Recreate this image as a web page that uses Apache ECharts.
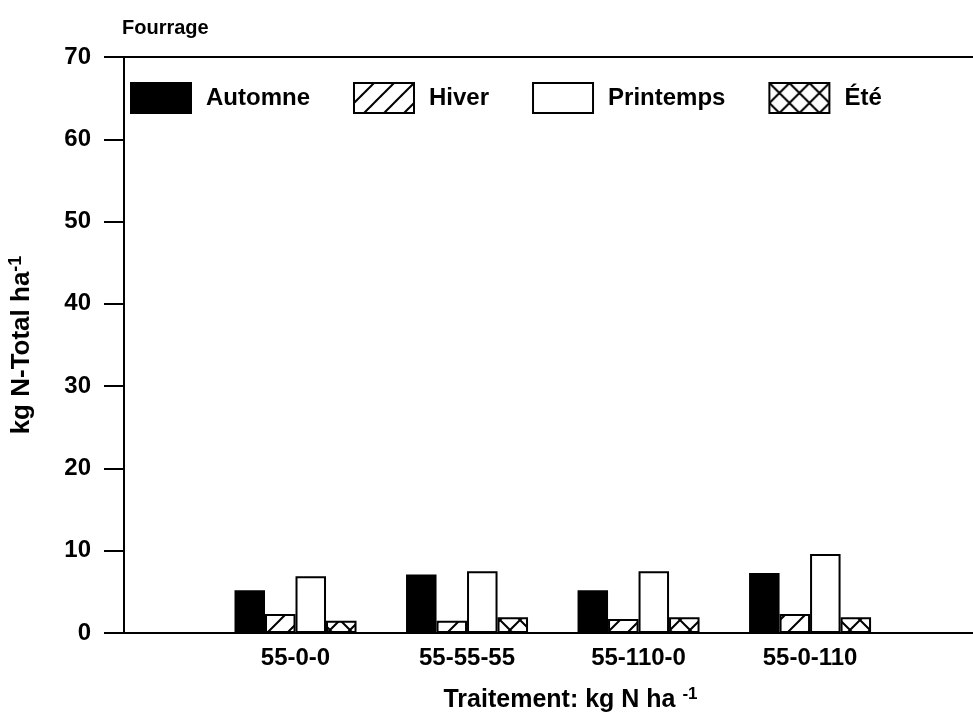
<!DOCTYPE html>
<html>
<head>
<meta charset="utf-8">
<script src="https://cdn.jsdelivr.net/npm/echarts@6/dist/echarts.min.js"></script>
<style>
html,body{margin:0;padding:0;background:#fff;}
#chart{width:973px;height:713px;}
</style>
</head>
<body>
<div id="chart"></div>
<script>
// ---- DATA ----
var categories = ['55-0-0', '55-55-55', '55-110-0', '55-0-110'];
var seriesNames = ['Automne', 'Hiver', 'Printemps', 'Été'];
var automne = [5.2, 7.1, 5.2, 7.3];
var hiver = [2.3, 1.5, 1.7, 2.3];
var printemps = [6.9, 7.5, 7.5, 9.6];
var ete = [1.5, 1.9, 1.9, 1.9];
var yTicks = [0, 10, 20, 30, 40, 50, 60, 70];

// ---- patterns ----
function hatchPattern(size) {
  var c = document.createElement('canvas');
  c.width = size; c.height = size;
  var g = c.getContext('2d');
  g.fillStyle = '#fff'; g.fillRect(0, 0, size, size);
  g.strokeStyle = '#000'; g.lineWidth = 2;
  g.beginPath();
  g.moveTo(-2, size + 2); g.lineTo(size + 2, -2);
  g.moveTo(-size / 2, size / 2); g.lineTo(size / 2, -size / 2);
  g.moveTo(size / 2, size * 1.5); g.lineTo(size * 1.5, size / 2);
  g.stroke();
  return c;
}
function crossPattern(size) {
  var c = document.createElement('canvas');
  c.width = size; c.height = size;
  var g = c.getContext('2d');
  g.fillStyle = '#fff'; g.fillRect(0, 0, size, size);
  g.strokeStyle = '#000'; g.lineWidth = 2;
  g.beginPath();
  g.moveTo(-2, size + 2); g.lineTo(size + 2, -2);
  g.moveTo(-2, -2); g.lineTo(size + 2, size + 2);
  g.stroke();
  return c;
}

var FONT = 'Liberation Sans, Arial, sans-serif';
var xs = [1, 2, 3, 4];
function pairs(arr) { return arr.map(function (v, i) { return [xs[i], v]; }); }

var fills = [
  '#000',
  { image: hatchPattern(20), repeat: 'repeat' },
  '#fff',
  { image: crossPattern(20), repeat: 'repeat' }
];
var dataSets = [automne, hiver, printemps, ete];

var series = seriesNames.map(function (name, i) {
  return {
    name: name,
    type: 'bar',
    xAxisIndex: 0,
    yAxisIndex: 0,
    barWidth: 30.5,
    barGap: '0%',
    data: pairs(dataSets[i]),
    itemStyle: { color: fills[i], borderColor: '#000', borderWidth: 2 },
    emphasis: { disabled: true },
    animation: false
  };
});

var chart = echarts.init(document.getElementById('chart'), null, { renderer: 'canvas' });
chart.setOption({
  animation: false,
  backgroundColor: '#fff',
  textStyle: { fontFamily: FONT },
  title: {
    text: 'Fourrage',
    left: 122, top: 18, padding: 0,
    textStyle: { fontFamily: FONT, fontSize: 20, fontWeight: 'bold', color: '#000' }
  },
  legend: {
    left: 130, top: 82, padding: 0,
    itemWidth: 60, itemHeight: 30, itemGap: 43,
    icon: 'rect',
    selectedMode: false,
    itemStyle: { borderColor: '#000', borderWidth: 2 },
    textStyle: { fontFamily: FONT, fontSize: 24, fontWeight: 'bold', color: '#000', padding: [0, 0, 0, 10] },
    data: seriesNames
  },
  grid: { left: 124, right: 0, top: 57, bottom: 80, containLabel: false, outerBoundsMode: 'none' },
  xAxis: [{
    type: 'value',
    min: 0, max: 4.95, interval: 1,
    position: 'bottom',
    axisLine: { show: true, lineStyle: { color: '#000', width: 2 } },
    axisTick: { show: false },
    splitLine: { show: false },
    axisLabel: {
      margin: 13, fontFamily: FONT, fontSize: 24, fontWeight: 'bold', color: '#000',
      showMaxLabel: false,
      formatter: function (v) { return categories[v - 1] || ''; }
    },
    name: '{n|Traitement: kg N ha }{s|-1}',
    nameLocation: 'middle',
    nameGap: 53,
    nameTextStyle: {
      padding: [0, 0, 0, 44],
      rich: {
        n: { fontFamily: FONT, fontSize: 25, fontWeight: 'bold', color: '#000' },
        s: { fontFamily: FONT, fontSize: 17, fontWeight: 'bold', color: '#000', verticalAlign: 'top', padding: [0, 0, 12, 0] }
      }
    }
  }, {
    type: 'value',
    min: 0, max: 4.95,
    position: 'top',
    axisLine: { show: true, lineStyle: { color: '#000', width: 2 } },
    axisTick: { show: false },
    axisLabel: { show: false },
    splitLine: { show: false }
  }],
  yAxis: {
    type: 'value',
    min: yTicks[0], max: yTicks[yTicks.length - 1], interval: 10,
    axisLine: { show: true, lineStyle: { color: '#000', width: 2 } },
    axisTick: { show: true, inside: false, length: 20, lineStyle: { color: '#000', width: 2 } },
    splitLine: { show: false },
    axisLabel: { margin: 33, fontFamily: FONT, fontSize: 24, fontWeight: 'bold', color: '#000' },
    name: '{n|kg N-Total ha}{s|-1}',
    nameLocation: 'middle',
    nameGap: 87,
    nameTextStyle: {
      rich: {
        n: { fontFamily: FONT, fontSize: 26, fontWeight: 'bold', color: '#000' },
        s: { fontFamily: FONT, fontSize: 18, fontWeight: 'bold', color: '#000', verticalAlign: 'top', padding: [0, 0, 12, 0] }
      }
    }
  },
  series: series
});
</script>
</body>
</html>
